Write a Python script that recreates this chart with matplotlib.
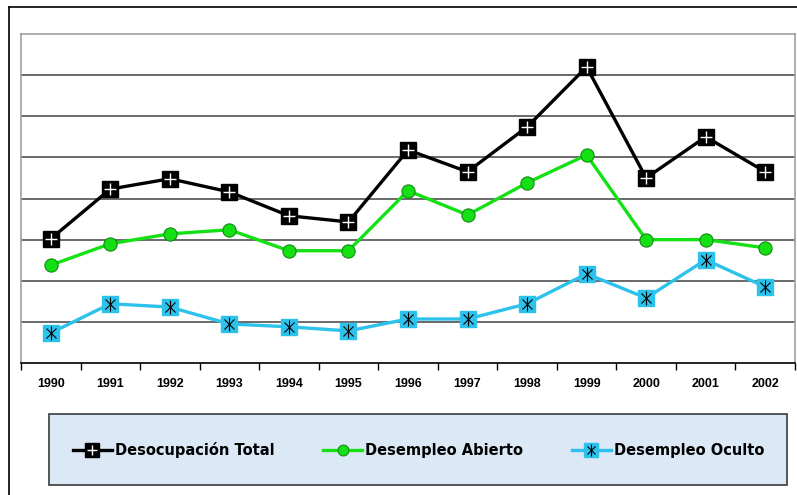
import matplotlib
matplotlib.use("Agg")
import matplotlib.pyplot as plt
from matplotlib.patches import Rectangle
from matplotlib.lines import Line2D

years = ["1990", "1991", "1992", "1993", "1994", "1995", "1996",
         "1997", "1998", "1999", "2000", "2001", "2002"]
desocupacion_total = [3.02, 4.23, 4.48, 4.16, 3.58, 3.43, 5.18, 4.65, 5.74, 7.20, 4.50, 5.50, 4.65]
desempleo_abierto = [2.38, 2.90, 3.14, 3.24, 2.73, 2.73, 4.19, 3.60, 4.38, 5.06, 3.00, 3.00, 2.80]
desempleo_oculto = [0.73, 1.44, 1.36, 0.95, 0.88, 0.78, 1.07, 1.07, 1.44, 2.17, 1.58, 2.51, 1.85]
labels = ["Desocupación Total", "Desempleo Abierto", "Desempleo Oculto"]

W, H = 797, 495
fig = plt.figure(figsize=(W / 100, H / 100), dpi=100)

def fx(px):
    return px / W

def fy(py):
    return 1 - py / H

# outer frame (left and top edges)
fig.add_artist(Line2D([fx(9), fx(9)], [fy(7), fy(500)], color="black", lw=1.2))
fig.add_artist(Line2D([fx(9), fx(800)], [fy(7), fy(7)], color="black", lw=1.2))

ax = fig.add_axes([fx(21), fy(363), fx(795) - fx(21), fy(34) - fy(363)])
x = list(range(len(years)))

CYAN = "#2cc2ec"
GREEN = "#14e014"

l3, = ax.plot(x, desempleo_oculto, color=CYAN, lw=2.4, marker="s", ms=11.5,
              mfc=CYAN, mec=CYAN, zorder=3)
l3x, = ax.plot(x, desempleo_oculto, ls="none", marker="x", ms=7, mec="black", mew=0.8, zorder=4)
l3v, = ax.plot(x, desempleo_oculto, ls="none", marker="|", ms=10, mec="black", mew=0.8, zorder=4)

l2, = ax.plot(x, desempleo_abierto, color=GREEN, lw=2.4, marker="o", ms=9.5,
              mfc=GREEN, mec="#138a13", mew=0.8, zorder=5)

l1, = ax.plot(x, desocupacion_total, color="black", lw=2.4, marker="s", ms=11.5,
              mfc="black", mec="black", zorder=6)
l1p, = ax.plot(x, desocupacion_total, ls="none", marker="+", ms=9, mec="white", mew=1.0, zorder=7)

ax.set_xlim(-0.5, len(years) - 0.5)
ax.set_ylim(0, 8)
ax.set_yticks([])
for yv in range(1, 8):
    ax.axhline(yv, color="#505050", lw=1.2, zorder=1)

ax.set_xticks(x)
ax.set_xticklabels(years, fontfamily="Liberation Sans", fontweight="bold", fontsize=9)
ax.tick_params(axis="x", which="major", length=0, pad=11)
ax.set_xticks([i - 0.5 for i in range(len(years) + 1)], minor=True)
ax.tick_params(axis="x", which="minor", length=5, width=1, color="black", direction="out")

for s in ["left", "top", "right"]:
    ax.spines[s].set_color("#a0a0a0")
    ax.spines[s].set_linewidth(1.2)
ax.spines["bottom"].set_color("black")
ax.spines["bottom"].set_linewidth(1.2)

# legend box
fig.add_artist(Rectangle((fx(49), fy(485)), fx(787) - fx(49), fy(414) - fy(485),
                         facecolor="#dbe8f5", edgecolor="#3a3a3a", lw=1.2))

leg = fig.legend([(l1, l1p), (l2,), (l3, l3x, l3v)], labels, loc="center",
                 bbox_to_anchor=(fx(418.5), fy(450)), ncol=3, frameon=False,
                 prop={"family": "DejaVu Sans", "weight": "bold", "size": 10.5},
                 handlelength=2.67, handletextpad=0.2, columnspacing=3.35,
                 markerscale=0.82)

fig.savefig("out.png", dpi=100)
